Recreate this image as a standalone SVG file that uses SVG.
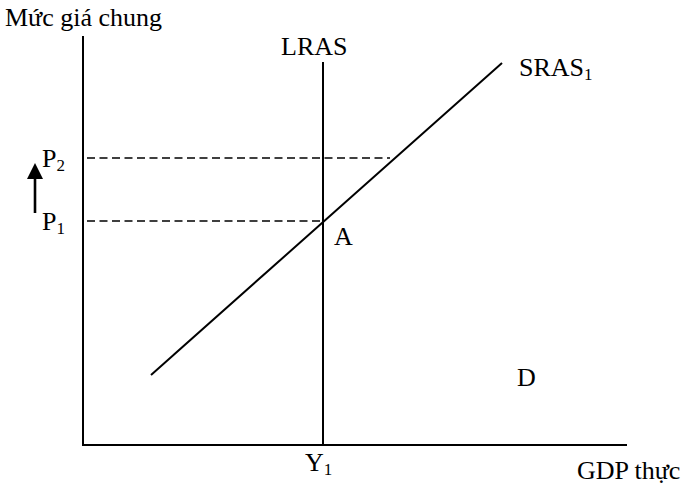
<svg xmlns="http://www.w3.org/2000/svg" width="683" height="484" viewBox="0 0 683 484">
<style>
text{font-family:"Liberation Serif","Times New Roman",serif;font-size:26px;fill:#000}
.sub{font-size:17px}
.ln{stroke:#000;stroke-width:2;fill:none}
.dash{stroke:#000;stroke-width:1.6;stroke-dasharray:8,4.5;fill:none}
</style>
<rect width="683" height="484" fill="#fff"/>
<g id="axes">
<line class="ln" x1="83" y1="36" x2="83" y2="446"/>
<line class="ln" x1="82" y1="445" x2="627" y2="445"/>
<text x="5" y="26">Mức giá chung</text>
<text x="577" y="479">GDP thực</text>
</g>
<g id="connectors">
<line class="dash" x1="87" y1="158" x2="390" y2="158"/>
<line class="dash" x1="87" y1="221" x2="323" y2="221"/>
</g>
<g id="lras">
<line class="ln" x1="323" y1="62" x2="323" y2="445"/>
<text x="281" y="55">LRAS</text>
</g>
<g id="sras">
<line class="ln" x1="151" y1="375" x2="502" y2="63"/>
<text x="519" y="76">SRAS<tspan class="sub" dy="4">1</tspan></text>
</g>
<g id="p2"><text x="42" y="167">P<tspan class="sub" dy="4">2</tspan></text></g>
<g id="p1"><text x="42" y="230">P<tspan class="sub" dy="4">1</tspan></text></g>
<g id="arrow">
<line x1="35" y1="213" x2="35" y2="176" stroke="#000" stroke-width="2.6"/>
<polygon points="35,163 27,179 43,179" fill="#000"/>
</g>
<g id="pointA"><text x="334" y="245">A</text></g>
<g id="pointD"><text x="517" y="386">D</text></g>
<g id="y1"><text x="305" y="471">Y<tspan class="sub" dy="4">1</tspan></text></g>
</svg>
